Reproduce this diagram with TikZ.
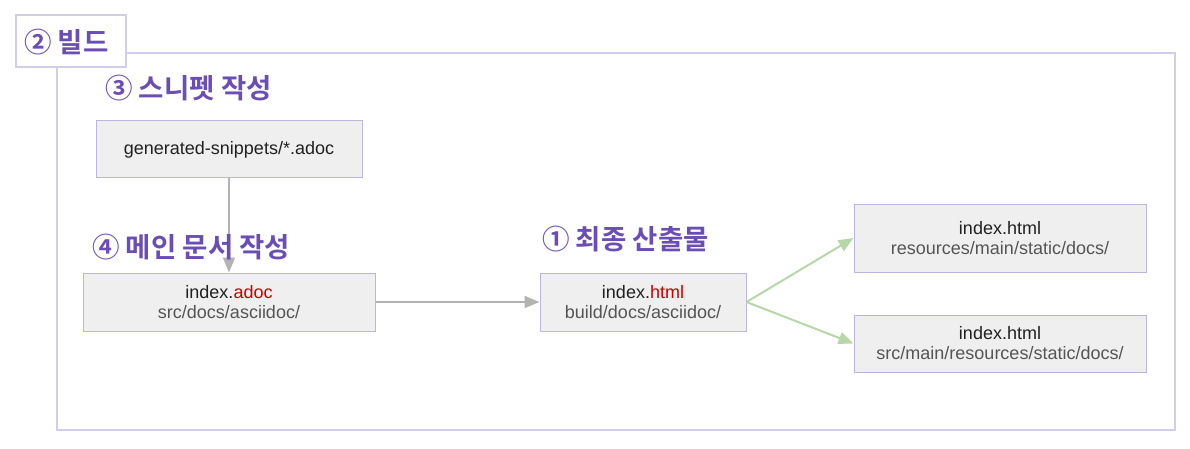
\documentclass[tikz,border=0pt]{standalone}
\usepackage{fontspec}
\setmainfont{Liberation Sans}
\newfontfamily\kr{Noto Sans CJK KR}[BoldFont={Noto Sans CJK KR Bold}]
\usetikzlibrary{arrows.meta}
\definecolor{frame}{HTML}{D2CDEB}
\definecolor{boxline}{HTML}{BDB5E0}
\definecolor{boxfill}{HTML}{EFEFEF}
\definecolor{ttl}{HTML}{6A4DB5}
\definecolor{grayarrow}{HTML}{B3B3B3}
\definecolor{greenarrow}{HTML}{B7D7A8}
\definecolor{sub}{HTML}{555555}
\definecolor{hl}{HTML}{CC0000}
\begin{document}
\begin{tikzpicture}[x=1pt,y=-1pt,
  filebox/.style={draw=boxline,fill=boxfill,line width=1pt,inner sep=0pt,align=center,font=\fontsize{18}{20}\selectfont,text=black!87},
  ttltext/.style={font=\kr\bfseries\fontsize{27.5}{30}\selectfont,text=ttl,anchor=west,inner sep=0pt},
  garrow/.style={draw=grayarrow,line width=2pt,-{Triangle[length=15pt,width=12pt]}},
  grarrow/.style={draw=greenarrow,line width=2pt,-{Triangle[length=15pt,width=12pt]}}]
\useasboundingbox (0,0) rectangle (1190,449);
\draw[frame,line width=1.5pt] (57,53) rectangle (1175,430);
\node[draw=frame,line width=1.5pt,fill=white,minimum width=110pt,minimum height=52pt,inner sep=0pt] (build) at (71,41) {};
\node[filebox,minimum width=266pt,minimum height=57pt] (snip) at (229,149.5) {generated-snippets/*.adoc};
\node[filebox,minimum width=292pt,minimum height=58pt] (adoc) at (229,302) {index.\textcolor{hl}{adoc}\\\textcolor{sub}{src/docs/asciidoc/}};
\node[filebox,minimum width=206pt,minimum height=58pt] (html) at (643,302) {index.\textcolor{hl}{html}\\\textcolor{sub}{build/docs/asciidoc/}};
\node[filebox,minimum width=292pt,minimum height=68pt] (res) at (1000,238) {index.html\\\textcolor{sub}{resources/main/static/docs/}};
\node[filebox,minimum width=292pt,minimum height=57pt] (src) at (1000,343.5) {index.html\\\textcolor{sub}{src/main/resources/static/docs/}};
\draw[garrow] (snip.south) -- (adoc.north);
\draw[garrow] (adoc.east) -- (html.west);
\draw[grarrow] (html.east) -- (res.west);
\draw[grarrow] (html.east) -- (src.west);
\node[ttltext] (buildt) at (24,42) {② 빌드};
\node[ttltext] (snipt) at (105,88) {③ 스니펫 작성};
\node[ttltext] (maint) at (92,247) {④ 메인 문서 작성};
\node[ttltext] (finalt) at (542,239) {① 최종 산출물};
\end{tikzpicture}
\end{document}
